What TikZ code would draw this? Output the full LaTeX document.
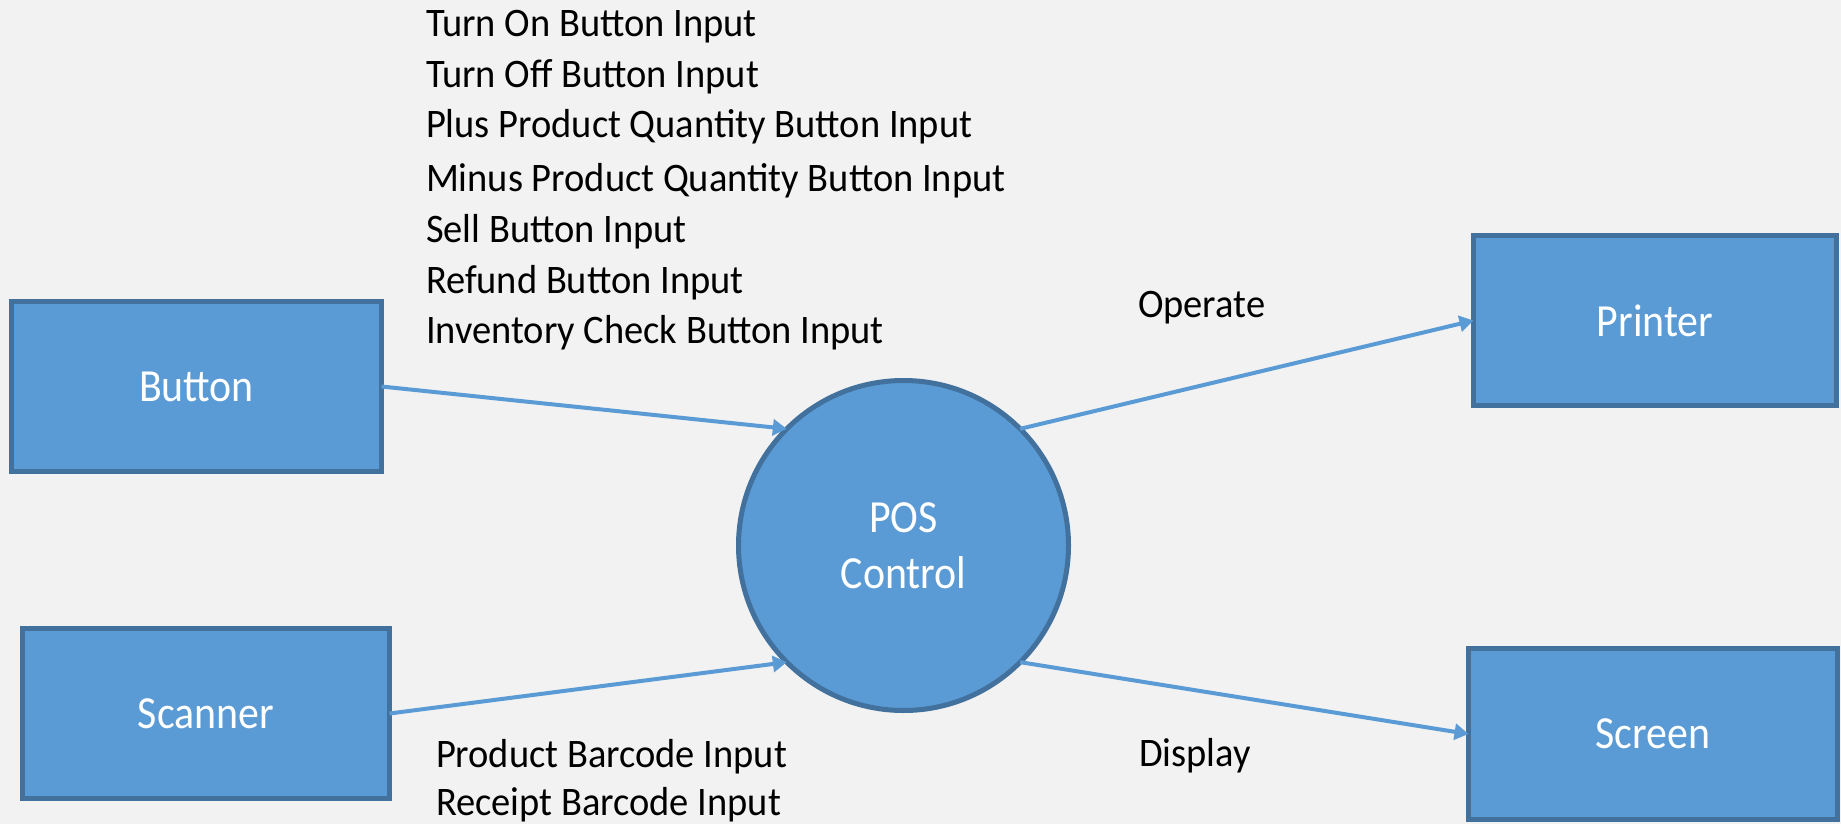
\documentclass[tikz,border=0pt]{standalone}
\usepackage{fontspec}
\setmainfont{Carlito}
\newfontfamily\boxfont[FakeStretch=0.91]{Carlito}
\newfontfamily\labelfont[FakeStretch=0.95]{Carlito}
\usetikzlibrary{arrows.meta}
\definecolor{bg}{HTML}{F2F2F2}
\definecolor{boxfill}{HTML}{5B9BD5}
\definecolor{boxline}{HTML}{41719C}
\definecolor{arrowc}{HTML}{5B9BD5}
\begin{document}
\begin{tikzpicture}[x=1pt,y=-1pt,
  ent/.style={draw=boxline, fill=boxfill, line width=5pt, inner sep=0pt, outer sep=0pt,
    text=white, font=\boxfont\fontsize{46}{56}\selectfont, align=center},
  flow/.style={draw=arrowc, line width=4pt, -{Triangle[length=14pt,width=16pt]}},
  lbl/.style={inner sep=0pt, outer sep=0pt, text=black, font=\labelfont\fontsize{40.5}{51}\selectfont, align=left}]
\fill[bg] (0,0) rectangle (1841,824);
\useasboundingbox (0,0) rectangle (1841,824);

\node[ent, minimum width=370pt, minimum height=170pt] (button) at (196.5,386.5) {Button};
\node[ent, minimum width=367pt, minimum height=170pt] (scanner) at (206,713.5) {Scanner};
\node[ent, minimum width=363pt, minimum height=170pt] (printer) at (1655,320.5) {Printer};
\node[ent, minimum width=369pt, minimum height=171pt] (screen) at (1653,734) {Screen};
\node[ent, circle, minimum size=330pt] (pos) at (903.5,545.5) {POS\\Control};

\draw[flow] (button.east) -- (pos.135);
\draw[flow] (scanner.east) -- (pos.225);
\draw[flow] (pos.45) -- (printer.west);
\draw[flow] (pos.-45) -- (screen.west);

\node[lbl, anchor=base west] (btnlbl) at (426,37) {Turn On Button Input};
\node[lbl, anchor=base west] (btnlbl2) at (426,88) {Turn Off Button Input};
\node[lbl, anchor=base west] (btnlbl3) at (426,138) {Plus Product Quantity Button Input};
\node[lbl, anchor=base west] (btnlbl4) at (426,191) {Minus Product Quantity Button Input};
\node[lbl, anchor=base west] (btnlbl5) at (426,242) {Sell Button Input};
\node[lbl, anchor=base west] (btnlbl6) at (426,293) {Refund Button Input};
\node[lbl, anchor=base west] (btnlbl7) at (426,343) {Inventory Check Button Input};

\node[lbl, anchor=base west] (scnlbl) at (436,767) {Product Barcode Input};
\node[lbl, anchor=base west] (scnlbl2) at (436,815) {Receipt Barcode Input};

\node[lbl, anchor=base west] (oplbl) at (1138,317) {Operate};
\node[lbl, anchor=base west] (displbl) at (1139,766) {Display};
\end{tikzpicture}
\end{document}
